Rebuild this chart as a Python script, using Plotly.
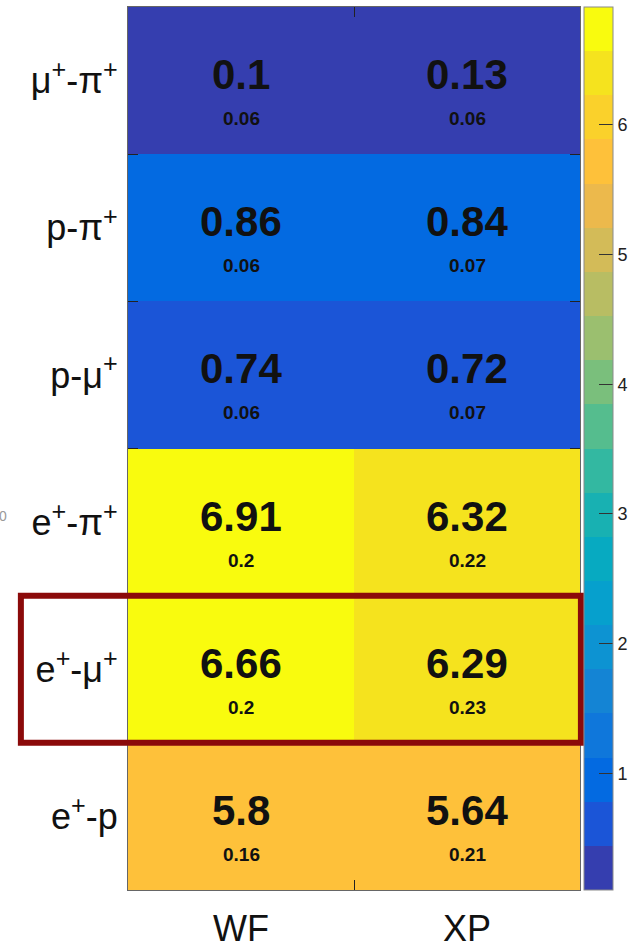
import numpy as np
import plotly.graph_objects as go

# ---- data ----
methods = ["WF", "XP"]
pairs = [
    "μ<sup>+</sup>-π<sup>+</sup>",
    "p-π<sup>+</sup>",
    "p-μ<sup>+</sup>",
    "e<sup>+</sup>-π<sup>+</sup>",
    "e<sup>+</sup>-μ<sup>+</sup>",
    "e<sup>+</sup>-p",
]
wf_values = [0.1, 0.86, 0.74, 6.91, 6.66, 5.8]
xp_values = [0.13, 0.84, 0.72, 6.32, 6.29, 5.64]
wf_errors = [0.06, 0.06, 0.06, 0.2, 0.2, 0.16]
xp_errors = [0.06, 0.07, 0.07, 0.22, 0.23, 0.21]
highlight_row = 4
colorbar_ticks = [1, 2, 3, 4, 5, 6]

# ---- parula colormap (64 entries), resampled to 20 discrete bands ----
parula64 = np.array([
    [0.2081, 0.1663, 0.5292], [0.2116, 0.1898, 0.5777], [0.2123, 0.2138, 0.6270],
    [0.2081, 0.2386, 0.6771], [0.1959, 0.2645, 0.7279], [0.1707, 0.2919, 0.7792],
    [0.1253, 0.3242, 0.8303], [0.0591, 0.3598, 0.8683], [0.0117, 0.3875, 0.8820],
    [0.0060, 0.4086, 0.8828], [0.0165, 0.4266, 0.8786], [0.0329, 0.4430, 0.8720],
    [0.0498, 0.4586, 0.8641], [0.0629, 0.4737, 0.8554], [0.0723, 0.4887, 0.8467],
    [0.0779, 0.5040, 0.8384], [0.0793, 0.5200, 0.8312], [0.0749, 0.5375, 0.8263],
    [0.0641, 0.5570, 0.8240], [0.0488, 0.5772, 0.8228], [0.0343, 0.5966, 0.8199],
    [0.0265, 0.6137, 0.8135], [0.0239, 0.6287, 0.8038], [0.0231, 0.6418, 0.7913],
    [0.0228, 0.6535, 0.7768], [0.0267, 0.6642, 0.7607], [0.0384, 0.6743, 0.7436],
    [0.0590, 0.6838, 0.7254], [0.0843, 0.6928, 0.7062], [0.1133, 0.7015, 0.6859],
    [0.1453, 0.7098, 0.6646], [0.1801, 0.7177, 0.6424], [0.2178, 0.7250, 0.6193],
    [0.2586, 0.7317, 0.5954], [0.3022, 0.7376, 0.5712], [0.3482, 0.7424, 0.5473],
    [0.3953, 0.7459, 0.5244], [0.4420, 0.7481, 0.5033], [0.4871, 0.7491, 0.4840],
    [0.5300, 0.7491, 0.4661], [0.5709, 0.7485, 0.4494], [0.6099, 0.7473, 0.4337],
    [0.6473, 0.7456, 0.4188], [0.6834, 0.7435, 0.4044], [0.7184, 0.7411, 0.3905],
    [0.7525, 0.7384, 0.3768], [0.7858, 0.7356, 0.3633], [0.8185, 0.7327, 0.3498],
    [0.8507, 0.7299, 0.3360], [0.8824, 0.7274, 0.3217], [0.9139, 0.7258, 0.3063],
    [0.9450, 0.7261, 0.2886], [0.9739, 0.7314, 0.2666], [0.9938, 0.7455, 0.2403],
    [0.9990, 0.7653, 0.2164], [0.9955, 0.7861, 0.1967], [0.9880, 0.8066, 0.1794],
    [0.9789, 0.8271, 0.1633], [0.9697, 0.8481, 0.1475], [0.9626, 0.8705, 0.1309],
    [0.9589, 0.8949, 0.1132], [0.9598, 0.9218, 0.0948], [0.9661, 0.9514, 0.0755],
    [0.9763, 0.9831, 0.0538],
])
n_bands = 20
src = np.linspace(0, 1, len(parula64))
dst = np.linspace(0.05, 1, n_bands)
bands = np.column_stack([np.interp(dst, src, parula64[:, c]) for c in range(3)])
colorscale = []
for k, (r, g, b) in enumerate(bands):
    col = f"rgb({int(round(r*255))},{int(round(g*255))},{int(round(b*255))})"
    colorscale.append([k / n_bands, col])
    colorscale.append([(k + 1) / n_bands, col])

z = np.column_stack([wf_values, xp_values])
zmin, zmax = float(z.min()), float(z.max())
rows = list(range(len(pairs)))
cols = list(range(len(methods)))

fig = go.Figure(go.Heatmap(
    z=z, x=cols, y=rows,
    colorscale=colorscale, zmin=zmin, zmax=zmax,
    hoverinfo="skip",
    colorbar=dict(
        x=1.0088, xanchor="left", xpad=0,
        y=0.5, yanchor="middle", ypad=0, len=1,
        thickness=29,
        outlinecolor="#8a8a8a", outlinewidth=1,
        tickvals=colorbar_ticks, ticks="inside", ticklen=14,
        tickcolor="#333", tickwidth=1,
        tickfont=dict(family="Liberation Sans", size=18, color="#222"),
    ),
))

# value labels with their uncertainties underneath
annotations = []
for i in rows:
    for j, (vals, errs) in enumerate(((wf_values, wf_errors), (xp_values, xp_errors))):
        annotations.append(dict(
            x=j, y=i, xref="x", yref="y", text=f"<b>{vals[i]:g}</b>",
            showarrow=False, yshift=6,
            font=dict(family="Liberation Sans", size=42, color="#111"),
        ))
        annotations.append(dict(
            x=j, y=i, xref="x", yref="y", text=f"<b>{errs[i]:g}</b>",
            showarrow=False, yshift=-38,
            font=dict(family="Liberation Sans", size=19, color="#111"),
        ))
annotations.append(dict(
    x=-0.263, y=0.424, xref="paper", yref="paper", text="0",
    xanchor="right", showarrow=False,
    font=dict(family="Liberation Sans", size=14, color="#9a9a9a"),
))

# highlighted row box
fig.add_shape(
    type="rect", xref="paper", yref="y",
    x0=-0.237, x1=1.002,
    y0=highlight_row - 0.5, y1=highlight_row + 0.5,
    line=dict(color="#8b0a0a", width=6), layer="above",
)

axis_line = dict(showline=True, linecolor="#666", linewidth=1, mirror="ticks",
                 showgrid=False, zeroline=False, layer="above traces")
fig.update_layout(
    width=641, height=950,
    margin=dict(l=128, r=61, t=7, b=60, autoexpand=False),
    paper_bgcolor="white", plot_bgcolor="white",
    annotations=annotations,
    xaxis=dict(
        **axis_line, range=[-0.5, 1.5],
        tickmode="array", tickvals=cols, ticktext=methods, ticks="",
        ticklabelstandoff=7,
        tickfont=dict(family="Liberation Sans", size=36, color="#111"),
        minor=dict(tickmode="array", tickvals=[0.5], ticks="inside",
                   ticklen=10, tickcolor="#222", tickwidth=1),
    ),
    yaxis=dict(
        **axis_line, range=[len(pairs) - 0.5, -0.5],
        tickmode="array", tickvals=rows, ticktext=pairs, ticks="",
        ticklabelstandoff=2,
        tickfont=dict(family="Liberation Sans", size=36, color="#111"),
        minor=dict(tickmode="array", tickvals=[r + 0.5 for r in rows[:-1]],
                   ticks="inside", ticklen=10, tickcolor="#222", tickwidth=1),
    ),
)

fig.write_html("out.html")
